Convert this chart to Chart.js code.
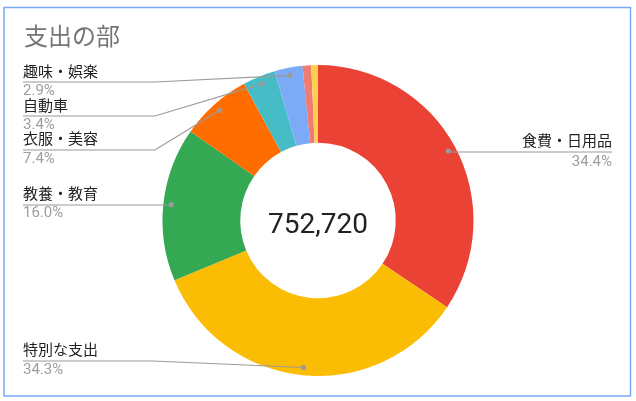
<!DOCTYPE html>
<html>
<head>
<meta charset="utf-8">
<script src="https://cdn.jsdelivr.net/npm/chart.js@4.4.0/dist/chart.umd.min.js"></script>
<style>
html,body{margin:0;padding:0;background:#fff;}
#wrap{position:relative;width:636px;height:401px;}
</style>
</head>
<body>
<div id="wrap"><canvas id="c" width="636" height="401"></canvas></div>
<script>
const title = "支出の部";
const categories = ["食費・日用品", "特別な支出", "教養・教育", "衣服・美容", "自動車", "趣味・娯楽", "交際費", "その他"];
const values = [259000, 258200, 120400, 55700, 25600, 21800, 6800, 5220];
const colors = ["#ea4335", "#fbbc04", "#34a853", "#ff6d01", "#46bdc6", "#7baaf7", "#f07b72", "#fcd04f"];

const FONT = "Roboto, 'Noto Sans CJK JP', 'Noto Sans', sans-serif";
// annotation layout (index -> placement)
const annot = [
  {i:0, side:'right', tx:612, ty:142, ly:152, py:162},
  {i:1, side:'left', tx:23, ty:351, ly:361, py:370, bend:153},
  {i:2, side:'left', tx:23, ty:195, ly:205, py:213, bend:null},
  {i:3, side:'left', tx:23, ty:140, ly:150, py:159, bend:155},
  {i:4, side:'left', tx:23, ty:107, ly:116, py:125, bend:155},
  {i:5, side:'left', tx:23, ty:73, ly:82, py:91, bend:155}
];

const total = values.reduce((a,b)=>a+b,0);

const decor = {
  id:'decor',
  afterDraw(chart){
    const ctx = chart.ctx;
    const meta = chart.getDatasetMeta(0);
    ctx.save();
    // frame
    ctx.strokeStyle = '#7aa9f5';
    ctx.lineWidth = 1.5;
    ctx.strokeRect(4, 7.5, 626.5, 388.5);
    // title
    ctx.fillStyle = '#757575';
    ctx.font = '24px ' + FONT;
    ctx.textAlign = 'left';
    ctx.textBaseline = 'middle';
    ctx.fillText(title, 24, 39);
    // center total
    const a0 = meta.data[0];
    ctx.fillStyle = '#222';
    ctx.font = '28px ' + FONT;
    ctx.textAlign = 'center';
    ctx.fillText(total.toLocaleString('en-US'), a0.x, 226);
    // annotations
    annot.forEach(a=>{
      const arc = meta.data[a.i];
      const mid = (arc.startAngle + arc.endAngle)/2;
      const r = arc.outerRadius * 0.95;
      const dx = arc.x + Math.cos(mid)*r;
      const dy = arc.y + Math.sin(mid)*r;
      ctx.strokeStyle = '#9a9a9a';
      ctx.lineWidth = 1.2;
      ctx.beginPath();
      if (a.side === 'right') {
        ctx.moveTo(a.tx, a.ly);
        ctx.lineTo(dx, a.ly);
        ctx.lineTo(dx, dy);
      } else {
        ctx.moveTo(a.tx, a.ly);
        if (a.bend !== null) { ctx.lineTo(a.bend, a.ly); ctx.lineTo(dx, dy); }
        else { ctx.lineTo(dx, a.ly); ctx.lineTo(dx, dy); }
      }
      ctx.stroke();
      ctx.fillStyle = '#9a9a9a';
      ctx.beginPath();
      ctx.arc(dx, dy, 2.6, 0, Math.PI*2);
      ctx.fill();
      ctx.textAlign = a.side === 'right' ? 'right' : 'left';
      ctx.textBaseline = 'middle';
      ctx.fillStyle = '#222';
      ctx.font = '15px ' + FONT;
      ctx.fillText(categories[a.i], a.tx, a.ty);
      ctx.fillStyle = '#9e9e9e';
      ctx.fillText((values[a.i]/total*100).toFixed(1) + '%', a.tx, a.py);
    });
    ctx.restore();
  }
};

new Chart(document.getElementById('c'), {
  type:'doughnut',
  data:{
    labels: categories,
    datasets:[{data: values, backgroundColor: colors, borderWidth:0, hoverOffset:0}]
  },
  options:{
    responsive:false,
    animation:false,
    cutout:'50%',
    layout:{padding:{left:162.5, right:162.5, top:65, bottom:25}},
    plugins:{legend:{display:false}, tooltip:{enabled:false}}
  },
  plugins:[decor]
});
</script>
</body>
</html>
